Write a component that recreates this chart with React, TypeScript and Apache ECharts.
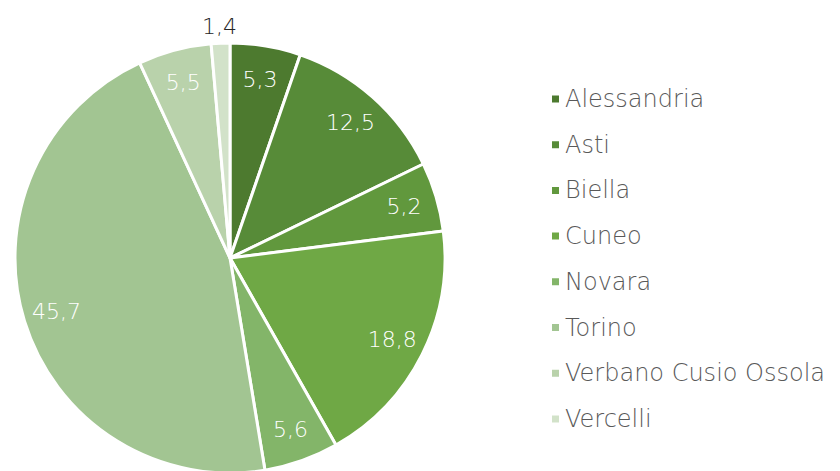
import React, { useEffect, useRef } from "react";
import * as echarts from "echarts";

const categories = ["Alessandria", "Asti", "Biella", "Cuneo", "Novara", "Torino", "Verbano Cusio Ossola", "Vercelli"];
const values = [5.3, 12.5, 5.2, 18.8, 5.6, 45.7, 5.5, 1.4];
const colors = ["#4d7a2f", "#578b38", "#61983d", "#6fa845", "#83b569", "#a2c592", "#b9d2ab", "#d2e2c9"];
const outsideLabels = ["Vercelli"];

const FONT = "'Century Gothic', 'DejaVu Sans', sans-serif";

export default function App() {
  const ref = useRef<HTMLDivElement>(null);
  useEffect(() => {
    if (!ref.current) return;
    const chart = echarts.init(ref.current, undefined, { renderer: "svg" });
    const R = 215;
    const center = [222, 250];
    const fmt = (p: any) => String(p.value).replace(".", ",");
    chart.setOption({
      animation: false,
      backgroundColor: "#ffffff",
      legend: {
        orient: "vertical",
        left: 537,
        top: 74,
        itemWidth: 9,
        itemHeight: 9,
        itemGap: 21.7,
        icon: "rect",
        data: categories,
        textStyle: { fontFamily: FONT, fontSize: 24, fontWeight: 200, color: "#595959", lineHeight: 24 },
        selectedMode: false,
      },
      series: [
        {
          type: "pie",
          center,
          radius: [0, R],
          startAngle: 90,
          clockwise: true,
          avoidLabelOverlap: false,
          label: { show: false },
          labelLine: { show: false },
          itemStyle: { borderColor: "#ffffff", borderWidth: 3 },
          emphasis: { disabled: true },
          data: categories.map((c, i) => ({ name: c, value: values[i], itemStyle: { color: colors[i] } })),
        },
        {
          type: "pie",
          center,
          radius: [R * 0.66, R],
          startAngle: 90,
          clockwise: true,
          silent: true,
          avoidLabelOverlap: false,
          emphasis: { disabled: true },
          itemStyle: { color: "rgba(0,0,0,0)" },
          labelLine: { show: false, length: 14, length2: 0 },
          labelLayout: (p: any) =>
            outsideLabels.includes(categories[p.dataIndex]) ? { dx: 17, dy: -3 } : {},
          label: {
            show: true,
            position: "inside",
            formatter: fmt,
            fontFamily: FONT,
            fontSize: 22,
            fontWeight: 200,
            color: "#ffffff",
          },
          data: categories.map((c, i) => ({
            name: c,
            value: values[i],
            label: outsideLabels.includes(c)
              ? { position: "outside", color: "#262626", distanceToLabelLine: 0 }
              : undefined,
          })),
        },
      ],
    });
    return () => chart.dispose();
  }, []);
  return <div ref={ref} style={{ width: 824, height: 463 }} />;
}
